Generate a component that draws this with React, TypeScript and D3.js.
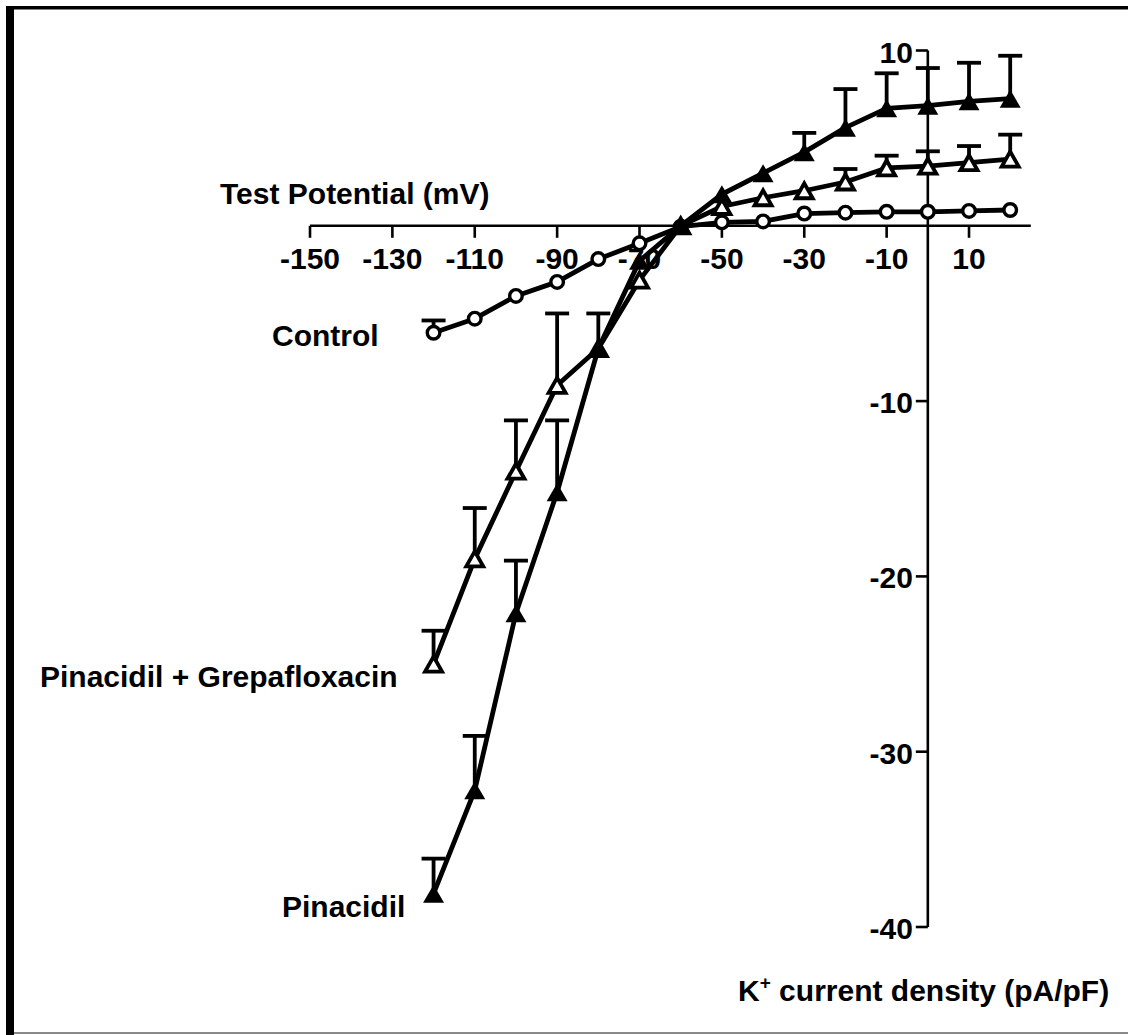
import React from "react";
import * as d3 from "d3";

// Test potentials (mV)
const potentials = [-120, -110, -100, -90, -80, -70, -60, -50, -40, -30, -20, -10, 0, 10, 20];

// K+ current density (pA/pF), mean and SEM
const controlMean = [-6.1, -5.3, -4.0, -3.2, -1.9, -1.0, -0.05, 0.2, 0.25, 0.7, 0.75, 0.8, 0.8, 0.85, 0.9];
const controlSem = [0.7, 0.3, 0.3, 0.3, 0.2, 0.2, 0.1, 0.2, 0.2, 0.2, 0.2, 0.2, 0.2, 0.2, 0.2];

const pinaMean = [-38.1, -32.2, -22.1, -15.2, -7.0, -2.0, 0.0, 1.8, 3.0, 4.2, 5.6, 6.7, 6.85, 7.1, 7.25];
const pinaSem = [2.0, 3.1, 3.0, 4.1, 2.0, 0.3, 0.2, 0.3, 0.3, 1.1, 2.2, 2.0, 2.15, 2.2, 2.45];

const pgMean = [-25.0, -19.0, -14.0, -9.1, -7.0, -3.1, 0.0, 1.1, 1.6, 2.0, 2.5, 3.3, 3.4, 3.6, 3.8];
const pgSem = [1.9, 2.9, 2.9, 4.1, 0.3, 0.3, 0.2, 0.3, 0.3, 0.4, 0.74, 0.7, 0.85, 0.95, 1.4];

const xTicks = [-150, -130, -110, -90, -70, -50, -30, -10, 10];
const yTicks = [10, -10, -20, -30, -40];

const seriesNames = ["Control", "Pinacidil + Grepafloxacin", "Pinacidil"];

const FONT = "'Liberation Sans', Arial, Helvetica, sans-serif";

type Shape = "circle" | "openTri" | "filledTri";

export default function App() {
  const W = 1128;
  const H = 1035;

  const x = d3.scaleLinear().domain([-150, 25]).range([310, 1030.8]);
  const y = d3.scaleLinear().domain([10, -40]).range([50.5, 927]);

  const line = d3
    .line<[number, number]>()
    .x((d) => x(d[0]))
    .y((d) => y(d[1]));

  const triPath = (cx: number, cy: number, w: number, h: number) =>
    `M${cx - w / 2},${cy + h / 2}L${cx + w / 2},${cy + h / 2}L${cx},${cy - h / 2}Z`;

  const series: { mean: number[]; sem: number[]; shape: Shape }[] = [
    { mean: controlMean, sem: controlSem, shape: "circle" },
    { mean: pgMean, sem: pgSem, shape: "openTri" },
    { mean: pinaMean, sem: pinaSem, shape: "filledTri" },
  ];

  const symbolHalf = 8;

  return (
    <svg
      width={W}
      height={H}
      viewBox={`0 0 ${W} ${H}`}
      style={{ position: "absolute", left: 0, top: 0, background: "#fff" }}
    >
      {/* frame */}
      <rect x={0} y={0} width={W} height={H} fill="#fff" />
      <rect x={6} y={6} width={W - 6} height={3.5} fill="#000" />
      <rect x={6} y={6} width={8} height={H - 6} fill="#000" />
      <rect x={14} y={1032} width={W - 14} height={2} fill="#888" />

      {/* x axis */}
      <g stroke="#000" strokeWidth={2.6}>
        <line x1={x(-150)} x2={x(25)} y1={y(0)} y2={y(0)} />
        {xTicks.map((t) => (
          <line key={t} x1={x(t)} x2={x(t)} y1={y(0)} y2={y(0) + 12} />
        ))}
      </g>
      <g fontFamily={FONT} fontWeight="bold" fontSize={30} textAnchor="middle">
        {xTicks.map((t) => (
          <text key={t} x={x(t)} y={y(0) + 43}>
            {t}
          </text>
        ))}
      </g>
      <text x={220} y={204} fontFamily={FONT} fontWeight="bold" fontSize={30}>
        Test Potential (mV)
      </text>

      {/* y axis */}
      <g stroke="#000" strokeWidth={2.6}>
        <line x1={x(0)} x2={x(0)} y1={y(10)} y2={y(-40)} />
        {yTicks.map((t) => (
          <line key={t} x1={x(0) - 12} x2={x(0)} y1={y(t)} y2={y(t)} />
        ))}
      </g>
      <g fontFamily={FONT} fontWeight="bold" fontSize={30} textAnchor="end">
        {yTicks.map((t) => (
          <text key={t} x={x(0) - 15} y={y(t) + 12}>
            {t}
          </text>
        ))}
      </g>
      <text x={738} y={1001} fontFamily={FONT} fontWeight="bold" fontSize={30}>
        K<tspan fontSize={19} dy={-12}>+</tspan>
        <tspan dy={12}> current density (pA/pF)</tspan>
      </text>

      {/* data */}
      {series.map((s, si) => {
        const pts: [number, number][] = potentials.map((p, i) => [p, s.mean[i]]);
        return (
          <g key={si}>
            {/* error bars above each mean */}
            <g stroke="#000" strokeWidth={3.8}>
              {potentials.map((p, i) => {
                const cy = y(s.mean[i]);
                const ty = y(s.mean[i] + s.sem[i]);
                if (cy - ty <= symbolHalf) return null;
                return (
                  <g key={p}>
                    <line x1={x(p)} x2={x(p)} y1={cy} y2={ty} />
                    <line x1={x(p) - 12} x2={x(p) + 12} y1={ty} y2={ty} />
                  </g>
                );
              })}
            </g>
            <path d={line(pts) ?? ""} fill="none" stroke="#000" strokeWidth={4.8} strokeLinejoin="round" />
            {pts.map(([p, v]) => {
              const cx = x(p);
              const cy = y(v);
              if (s.shape === "circle")
                return <circle key={p} cx={cx} cy={cy} r={6.3} fill="#fff" stroke="#000" strokeWidth={3.4} />;
              if (s.shape === "openTri")
                return (
                  <path
                    key={p}
                    d={triPath(cx, cy, 17, 15)}
                    fill="#fff"
                    stroke="#000"
                    strokeWidth={3.8}
                    strokeLinejoin="miter"
                  />
                );
              return <path key={p} d={triPath(cx, cy, 21, 18)} fill="#000" />;
            })}
          </g>
        );
      })}

      {/* series labels */}
      <g fontFamily={FONT} fontWeight="bold" fontSize={30}>
        <text x={272} y={346}>{seriesNames[0]}</text>
        <text x={40} y={687}>{seriesNames[1]}</text>
        <text x={282} y={917}>{seriesNames[2]}</text>
      </g>
    </svg>
  );
}
